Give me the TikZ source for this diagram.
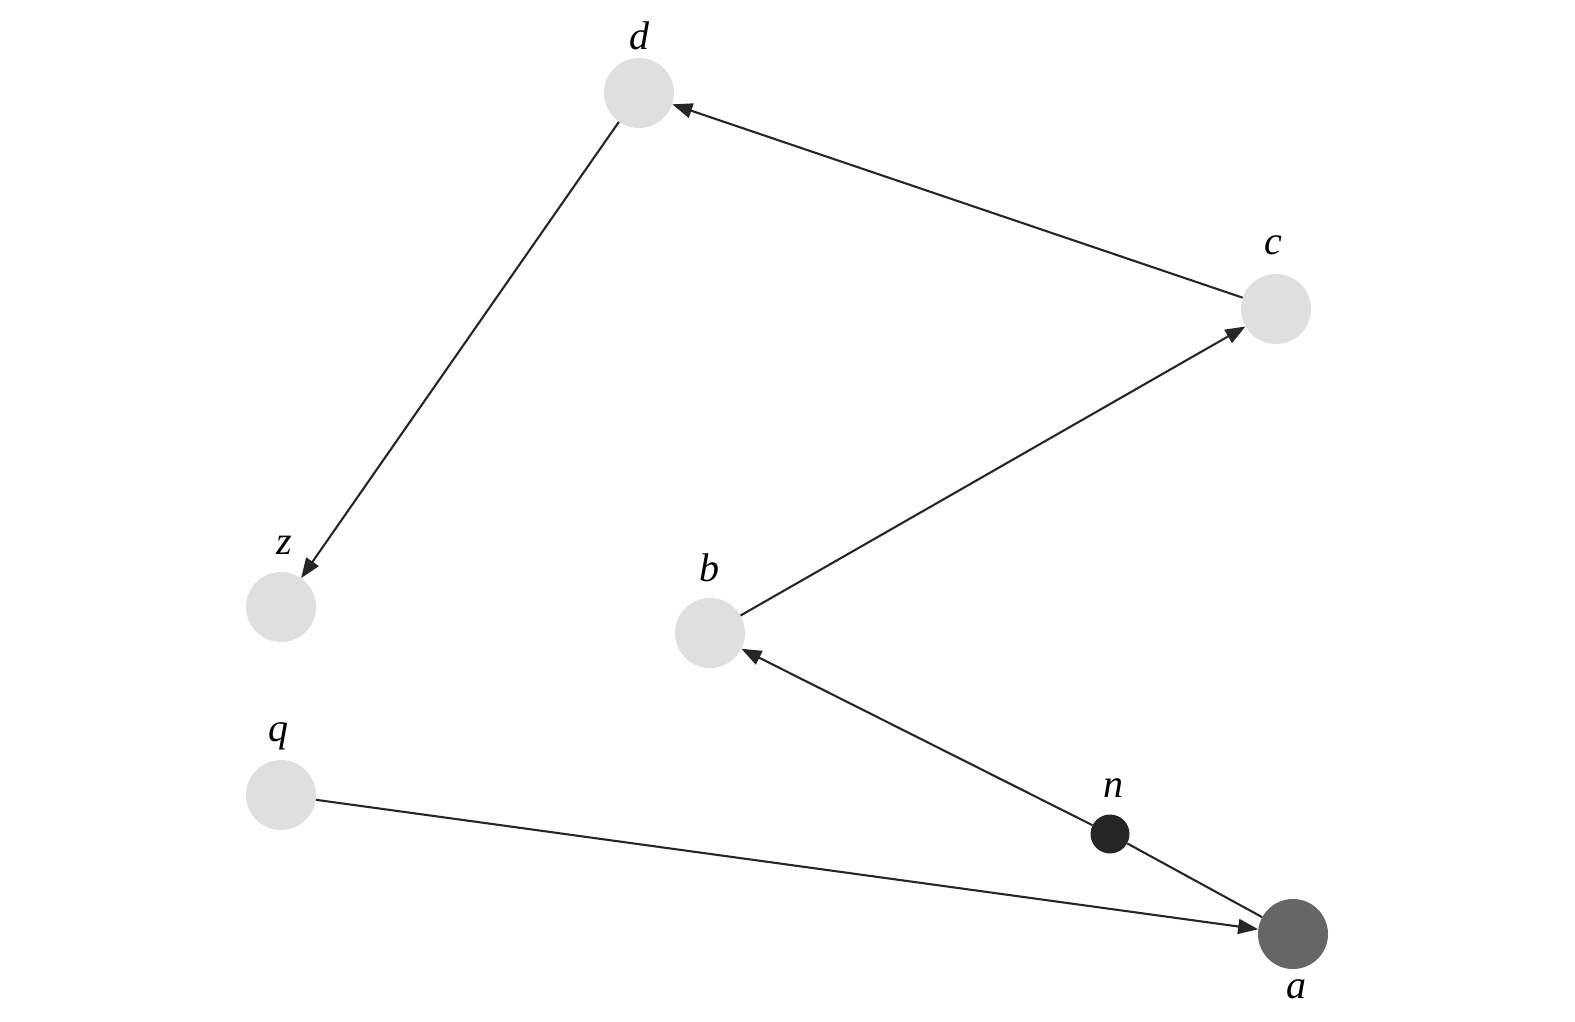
\documentclass[tikz,border=0pt]{standalone}
\usepackage{fontspec}
\setmainfont{Liberation Serif}
\usetikzlibrary{arrows.meta}
\begin{document}
\begin{tikzpicture}[x=1pt,y=-1pt,
  vtx/.style={circle,fill=gray!25,draw=none,minimum size=70pt,inner sep=0pt},
  lbl/.style={font=\fontsize{40}{46}\selectfont\itshape,inner sep=0pt},
  edge/.style={line width=2.1pt,draw=black!85,-{Triangle[length=20pt,width=15pt]}},
  plain/.style={line width=2.1pt,draw=black!85}]
\useasboundingbox (0,0) rectangle (1575,1022);
\node[vtx] (d) at (639,93) {};
\node[vtx] (c) at (1276,309) {};
\node[vtx] (z) at (281,607) {};
\node[vtx] (b) at (710,633) {};
\node[vtx] (q) at (281,795) {};
\node[circle,fill=black!85,minimum size=39pt,inner sep=0pt] (n) at (1110,834) {};
\node[vtx,fill=black!60] (a) at (1293,934) {};
\node[lbl] (ld) at (639,36) {d};
\node[lbl] (lc) at (1273,245) {c};
\node[lbl] (lz) at (284,545) {z};
\node[lbl] (lb) at (709,568) {b};
\node[lbl] (lq) at (278,736) {q};
\node[lbl] (ln) at (1113,788) {n};
\node[lbl] (la) at (1296,989) {a};
\draw[edge] (c) -- (d);
\draw[edge] (d) -- (z);
\draw[edge] (b) -- (c);
\draw[edge] (n) -- (b);
\draw[plain] (a) -- (n);
\draw[edge] (q) -- (a);
\end{tikzpicture}
\end{document}
